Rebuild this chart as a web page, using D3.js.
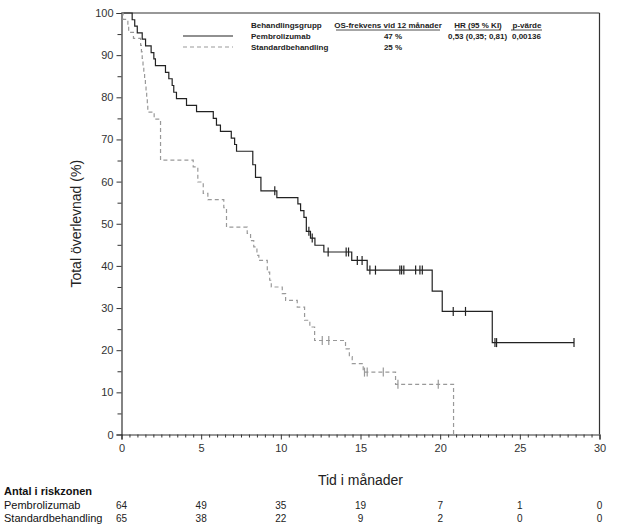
<!DOCTYPE html>
<html><head><meta charset="utf-8">
<script src="https://cdn.jsdelivr.net/npm/d3@7/dist/d3.min.js"></script>
<style>body{margin:0;background:#fff}svg{display:block}text{font-family:"Liberation Sans",Arial,sans-serif}</style>
</head><body><svg id="c" width="621" height="528"></svg>
<script>
const xTicks = [0,5,10,15,20,25,30];
const yTicks = [0,10,20,30,40,50,60,70,80,90,100];
const groups = ["Pembrolizumab","Standardbehandling"];
const osRate = ["47 %","25 %"];
const hrText = "0,53 (0,35; 0,81)";
const pText = "0,00136";
const legendHeader = ["Behandlingsgrupp","OS-frekvens vid 12 månader","HR (95 % KI)","p-värde"];
const riskPembro = [64,49,35,19,7,1,0];
const riskStd = [65,38,22,9,2,0,0];

// Pembrolizumab: event times and survival after event
const pembroT = [0.67,0.83,0.99,1.30,1.51,1.86,2.03,2.13,2.76,2.97,3.18,3.28,3.45,4.08,4.71,5.76,5.96,6.21,6.89,7.10,7.22,8.24,8.41,8.75,9.75,11.07,11.24,11.45,11.60,11.86,12.14,12.70,14.45,15.42,19.50,20.13,23.27];
const pembroS = [98.4,96.9,95.3,93.8,92.2,90.6,89.1,87.5,85.9,84.4,82.8,81.2,79.7,78.1,76.6,75.0,73.4,71.9,70.3,68.8,67.2,64.0,61.0,57.8,56.2,54.7,53.1,51.5,48.2,46.6,44.9,43.3,41.3,39.0,34.0,29.2,21.8];
const pembroCens = [9.62,11.76,11.97,12.97,14.10,14.25,14.80,15.10,15.59,15.94,17.47,17.58,17.72,18.46,18.73,18.88,20.82,21.59,23.44,23.54,28.40];
const pembroEnd = 28.40;

// Standardbehandling
const stdT = [0.10,0.40,0.45,0.75,1.20,1.25,1.30,1.35,1.40,1.45,1.50,1.54,1.58,1.62,1.65,2.05,2.45,4.50,4.79,5.13,5.42,6.42,6.59,7.89,8.10,8.30,8.50,8.62,9.15,9.30,9.40,10.09,10.30,11.03,11.49,11.82,12.12,14.06,14.30,14.48,15.17,17.20,20.84];
const stdS = [98.5,96.9,95.4,94.0,92.3,90.8,89.2,87.7,86.2,84.6,83.1,81.5,80.0,78.5,76.5,74.8,65.1,63.5,59.9,57.2,55.7,53.8,49.2,47.7,46.0,44.5,42.5,41.3,38.5,36.6,35.0,33.4,31.8,30.2,27.1,25.5,22.3,20.3,18.5,16.8,14.8,11.9,0];
const stdCens = [12.60,13.01,15.25,15.42,16.43,17.35,19.88];
const stdEnd = 20.84;

const svg = d3.select("#c");
const x = d3.scaleLinear().domain([0,30]).range([121.5,599.5]);
const y = d3.scaleLinear().domain([0,100]).range([434.5,13]);
const axisCol = "#333";

// frame top & right
svg.append("line").attr("x1",x(0)).attr("x2",x(30)).attr("y1",y(100)).attr("y2",y(100)).attr("stroke",axisCol).attr("stroke-width",1.2);
svg.append("line").attr("x1",x(30)).attr("x2",x(30)).attr("y1",y(100)).attr("y2",y(0)).attr("stroke",axisCol).attr("stroke-width",1.2);

// y axis
const ya = svg.append("g").attr("transform",`translate(${x(0)},0)`)
  .call(d3.axisLeft(y).tickValues(yTicks).tickSize(5).tickPadding(3));
ya.select(".domain").attr("stroke",axisCol).attr("stroke-width",1.2);
ya.selectAll(".tick line").attr("stroke",axisCol);
ya.selectAll(".tick text").attr("font-size",11).attr("fill","#333").attr("font-family","Liberation Sans, Arial, sans-serif");
const yMinor = d3.range(5,100,10);
svg.append("g").attr("transform",`translate(${x(0)},0)`)
  .call(d3.axisLeft(y).tickValues(yMinor).tickSize(4).tickFormat(""))
  .call(g=>g.select(".domain").remove()).selectAll("line").attr("stroke",axisCol);

// x axis
const xa = svg.append("g").attr("transform",`translate(0,${y(0)})`)
  .call(d3.axisBottom(x).tickValues(xTicks).tickSize(5).tickPadding(5));
xa.select(".domain").attr("stroke",axisCol).attr("stroke-width",1.2);
xa.selectAll(".tick line").attr("stroke",axisCol);
xa.selectAll(".tick text").attr("font-size",11).attr("fill","#333").attr("font-family","Liberation Sans, Arial, sans-serif");
const xMinor = d3.range(0.5,30,0.5).filter(v=>v%5!==0);
svg.append("g").attr("transform",`translate(0,${y(0)})`)
  .call(d3.axisBottom(x).tickValues(xMinor).tickSize(3).tickFormat(""))
  .call(g=>g.select(".domain").remove()).selectAll("line").attr("stroke",axisCol);

// titles
svg.append("text").attr("transform",`translate(81,${(y(0)+y(100))/2}) rotate(-90)`).attr("text-anchor","middle")
  .attr("font-size",14).attr("fill","#222").text("Total överlevnad (%)");
svg.append("text").attr("x",(x(0)+x(30))/2).attr("y",485).attr("text-anchor","middle")
  .attr("font-size",14).attr("fill","#222").text("Tid i månader");

// curves
const line = d3.line().x(d=>x(d[0])).y(d=>y(d[1])).curve(d3.curveStepAfter);
function pts(T,S,end){const p=[[0,100]];T.forEach((t,i)=>p.push([t,S[i]]));if(end>T[T.length-1])p.push([end,S[S.length-1]]);return p;}
function survAt(T,S,t){let s=100;T.forEach((tt,i)=>{if(tt<=t)s=S[i];});return s;}
const styles=[{col:"#222",dash:null,w:1.2},{col:"#999",dash:"4,3",w:1.2}];
const series=[[pembroT,pembroS,pembroCens,pembroEnd],[stdT,stdS,stdCens,stdEnd]];
series.forEach(([T,S,C,E],i)=>{
  const st=styles[i];
  svg.append("path").attr("d",line(pts(T,S,E))).attr("fill","none").attr("stroke",st.col)
    .attr("stroke-width",st.w).attr("stroke-dasharray",st.dash);
  svg.append("g").selectAll("line").data(C).join("line")
    .attr("x1",d=>x(d)).attr("x2",d=>x(d))
    .attr("y1",d=>y(survAt(T,S,d))-4.5).attr("y2",d=>y(survAt(T,S,d))+4.5)
    .attr("stroke",st.col).attr("stroke-width",1.2);
});

// legend
const lg = svg.append("g").attr("font-size",8).attr("font-weight","bold").attr("fill","#222");
const rowY=[28,39,50];
lg.append("text").attr("x",251).attr("y",rowY[0]).text(legendHeader[0]);
const hdrX=[null,388,478,527];
[1,2,3].forEach(k=>{
  const t=lg.append("text").attr("x",hdrX[k]).attr("y",rowY[0]).attr("text-anchor","middle").text(legendHeader[k]);
});
[[336,440],[455,501],[511,542]].forEach(([a,b])=>svg.append("line").attr("x1",a).attr("x2",b).attr("y1",rowY[0]+2).attr("y2",rowY[0]+2).attr("stroke","#222").attr("stroke-width",0.8));
groups.forEach((g,i)=>{
  svg.append("line").attr("x1",183).attr("x2",233).attr("y1",rowY[i+1]-3).attr("y2",rowY[i+1]-3)
    .attr("stroke",styles[i].col).attr("stroke-width",1.2).attr("stroke-dasharray",styles[i].dash);
  lg.append("text").attr("x",251).attr("y",rowY[i+1]).text(g);
  lg.append("text").attr("x",393).attr("y",rowY[i+1]).attr("text-anchor","middle").text(osRate[i]);
});
lg.append("text").attr("x",448).attr("y",rowY[1]).text(hrText);
lg.append("text").attr("x",512).attr("y",rowY[1]).text(pText);

// risk table
svg.append("text").attr("x",4).attr("y",495).attr("font-size",11).attr("font-weight","bold").attr("fill","#111").text("Antal i riskzonen");
[[riskPembro,509],[riskStd,522]].forEach(([arr,yy],i)=>{
  svg.append("text").attr("x",4).attr("y",yy).attr("font-size",11).attr("fill","#111").text(groups[i]);
  svg.append("g").selectAll("text").data(arr).join("text")
    .attr("x",(d,j)=>x(xTicks[j])).attr("y",yy).attr("text-anchor","middle").attr("font-size",10).attr("fill","#222").text(d=>d);
});
</script></body></html>
